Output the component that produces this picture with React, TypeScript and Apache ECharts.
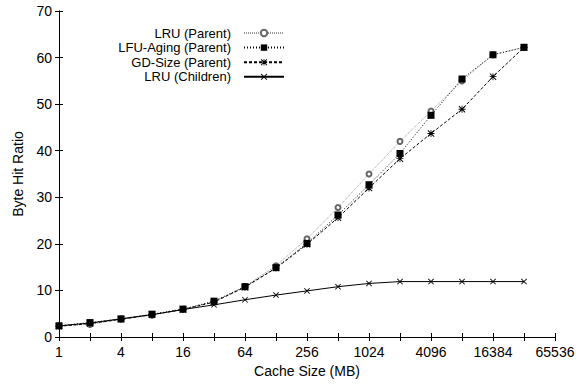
import React, { useEffect, useRef } from "react";
import * as echarts from "echarts";

// Cache sizes in MB (x axis, log base 2)
const cacheSizes = [1, 2, 4, 8, 16, 32, 64, 128, 256, 512, 1024, 2048, 4096, 8192, 16384, 32768];
const lruParent = [2.4, 2.7, 3.8, 4.7, 5.9, 7.6, 10.9, 15.3, 21.1, 27.8, 35.0, 42.0, 48.5, 55.0, 60.6, 62.2];
const lfuAgingParent = [2.4, 3.1, 3.9, 4.9, 6.0, 7.7, 10.8, 14.9, 20.1, 26.2, 32.7, 39.4, 47.6, 55.4, 60.6, 62.2];
const gdSizeParent = [2.3, 2.9, 3.8, 4.8, 5.9, 7.5, 10.7, 14.8, 19.9, 25.6, 32.0, 38.3, 43.7, 48.9, 55.9, 62.2];
const lruChildren = [2.4, 3.0, 3.9, 4.8, 5.9, 6.9, 8.0, 9.0, 9.9, 10.8, 11.5, 11.9, 11.9, 11.9, 11.9, 11.9];
const seriesNames = ["LRU (Parent)", "LFU-Aging (Parent)", "GD-Size (Parent)", "LRU (Children)"];
const xAxisName = "Cache Size (MB)";
const yAxisName = "Byte Hit Ratio";

const FONT = "'Liberation Sans', Arial, Helvetica, sans-serif";
const FS = 14;
const X_SYMBOL = "path://M0,1L1,0L5,4L9,0L10,1L6,5L10,9L9,10L5,6L1,10L0,9L4,5Z";
const STAR_SYMBOL =
  "path://M0,1L1,0L5,4L9,0L10,1L6,5L10,9L9,10L5,6L1,10L0,9L4,5Z M4.4,0L5.6,0L5.6,10L4.4,10Z M0,4.4L10,4.4L10,5.6L0,5.6Z";

const toPoints = (vals: number[]) => cacheSizes.map((s, i) => [Math.log2(s), vals[i]]);

export default function App() {
  const ref = useRef<HTMLDivElement>(null);
  useEffect(() => {
    if (!ref.current) return;
    const chart = echarts.init(ref.current, undefined, { renderer: "svg" });
    const axisLine = { show: true, lineStyle: { color: "#000", width: 1 } };
    const tick = { show: true, inside: true, length: 4, lineStyle: { color: "#000" } };
    const legendBase = {
      orient: "horizontal",
      right: 296,
      align: "right",
      itemWidth: 40,
      itemHeight: 8,
      selectedMode: false,
      padding: 0,
      textStyle: {
        fontFamily: FONT,
        fontSize: 13,
        lineHeight: 13,
        color: "#000",
        padding: [0, 8, 0, 0],
      },
    };
    chart.setOption({
      animation: false,
      backgroundColor: "#fff",
      textStyle: { fontFamily: FONT },
      grid: { left: 59, right: 26, top: 11, bottom: 48 },
      legend: seriesNames.map((n, i) => ({ ...legendBase, data: [n], top: 26.5 + i * 14.6 })),
      xAxis: [
        {
          type: "value",
          min: 0,
          max: 16,
          interval: 1,
          position: "bottom",
          name: xAxisName,
          nameLocation: "middle",
          nameGap: 27,
          nameTextStyle: { fontFamily: FONT, fontSize: FS, color: "#000" },
          axisLine,
          axisTick: tick,
          splitLine: { show: false },
          axisLabel: {
            fontFamily: FONT,
            fontSize: FS,
            color: "#000",
            margin: 8,
            formatter: (v: number) => (v % 2 === 0 ? String(Math.pow(2, v)) : ""),
          },
        },
        {
          type: "value",
          min: 0,
          max: 16,
          interval: 1,
          position: "top",
          axisLine,
          axisTick: tick,
          splitLine: { show: false },
          axisLabel: { show: false },
        },
      ],
      yAxis: [
        {
          type: "value",
          min: 0,
          max: 70,
          interval: 10,
          position: "left",
          name: yAxisName,
          nameLocation: "middle",
          nameGap: 34,
          nameTextStyle: { fontFamily: FONT, fontSize: FS, color: "#000" },
          axisLine,
          axisTick: tick,
          splitLine: { show: false },
          axisLabel: { fontFamily: FONT, fontSize: FS, color: "#000", margin: 7 },
        },
        {
          type: "value",
          min: 0,
          max: 70,
          interval: 10,
          position: "right",
          axisLine,
          axisTick: tick,
          splitLine: { show: false },
          axisLabel: { show: false },
        },
      ],
      series: [
        {
          name: seriesNames[0],
          type: "line",
          data: toPoints(lruParent),
          symbol: "emptyCircle",
          symbolSize: 5,
          itemStyle: { color: "#666", borderWidth: 1 },
          lineStyle: { color: "#999", width: 1, type: [1, 1] },
          z: 2,
        },
        {
          name: seriesNames[1],
          type: "line",
          data: toPoints(lfuAgingParent),
          symbol: "rect",
          symbolSize: 7,
          itemStyle: { color: "#000" },
          lineStyle: { color: "#000", width: 1, type: [1, 2] },
          z: 3,
        },
        {
          name: seriesNames[2],
          type: "line",
          data: toPoints(gdSizeParent),
          symbol: STAR_SYMBOL,
          symbolSize: 7,
          itemStyle: { color: "#000" },
          lineStyle: { color: "#000", width: 1, type: [3, 2] },
          z: 4,
        },
        {
          name: seriesNames[3],
          type: "line",
          data: toPoints(lruChildren),
          symbol: X_SYMBOL,
          symbolSize: 6,
          itemStyle: { color: "#000" },
          lineStyle: { color: "#000", width: 1, type: "solid" },
          z: 5,
        },
      ],
    });
    return () => chart.dispose();
  }, []);
  return (
    <div
      ref={ref}
      style={{ position: "fixed", left: 0, top: 0, width: 581, height: 385, background: "#fff" }}
    />
  );
}
